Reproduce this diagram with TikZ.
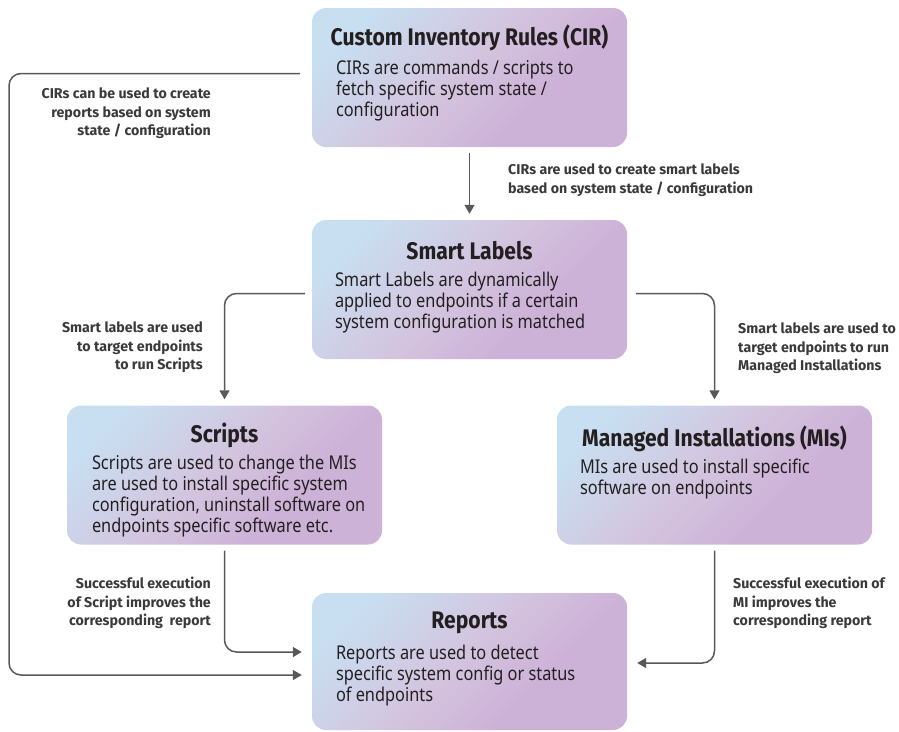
\documentclass[tikz,border=0pt]{standalone}
\usepackage{fontspec}
\usepackage{tikz}
\usetikzlibrary{calc,arrows.meta}
\newfontfamily\titlefont[FakeStretch=0.88]{Fira Sans}
\newfontfamily\bodyfont[FakeStretch=0.86]{Noto Sans}
\newfontfamily\notefont{Fira Sans}
\definecolor{boxblue}{HTML}{C8DFF1}
\definecolor{boxmid}{HTML}{D3C4DE}
\definecolor{boxpurple}{HTML}{CDB2D8}
\definecolor{linegray}{HTML}{58585A}
\definecolor{inktext}{HTML}{231F20}
\definecolor{notegray}{HTML}{3A3A3C}
\pgfdeclarehorizontalshading{boxshade}{100bp}{color(0bp)=(boxblue); color(24bp)=(boxblue);
  color(48bp)=(boxmid); color(64bp)=(boxpurple); color(100bp)=(boxpurple)}

\begin{document}
\begin{tikzpicture}[x=1pt, y=-1pt,
  box/.style={rectangle, rounded corners=14pt, minimum width=315pt, minimum height=139pt,
    inner sep=0pt, shading=boxshade, shading angle=-45},
  boxtitle/.style={font=\titlefont\bfseries\fontsize{24}{28}\selectfont, text=inktext, inner sep=0pt},
  boxbody/.style={font=\bodyfont\fontsize{19}{21}\selectfont, text=inktext, inner sep=0pt, align=left, anchor=north west},
  note/.style={font=\notefont\bfseries\fontsize{14.2}{18.5}\selectfont, text=notegray, inner sep=0pt},
  conn/.style={draw=linegray, line width=1.5pt, rounded corners=12pt, -{Triangle[length=9pt,width=10pt]}}]
  \useasboundingbox (0,0) rectangle (899,731);

  \node[box] (cir) at (469.5,77.5) {};
  \node[box] (smart) at (469.5,289.5) {};
  \node[box] (scripts) at (224.5,475) {};
  \node[box] (mis) at (714.5,475) {};
  \node[box, minimum height=137pt] (reports) at (469.5,661.5) {};

  \node[boxtitle] (cir-title) at ($(cir.north)+(0,30)$) {Custom Inventory Rules (CIR)};
  \node[boxbody] (cir-body) at ($(cir.north west)+(24,52)$) {CIRs are commands / scripts to\\fetch specific system state /\\configuration};
  \node[boxtitle] (smart-title) at ($(smart.north)+(0,31)$) {Smart Labels};
  \node[boxbody] (smart-body) at ($(smart.north west)+(23,52)$) {Smart Labels are dynamically\\applied to endpoints if a certain\\system configuration is matched};
  \node[boxtitle] (scripts-title) at ($(scripts.north)+(0,30)$) {Scripts};
  \node[boxbody] (scripts-body) at ($(scripts.north west)+(25,50)$) {Scripts are used to change the MIs\\are used to install specific system\\configuration, uninstall software on\\endpoints specific software etc.};
  \node[boxtitle] (mis-title) at ($(mis.north)+(0,34)$) {Managed Installations (MIs)};
  \node[boxbody] (mis-body) at ($(mis.north west)+(23,53)$) {MIs are used to install specific\\software on endpoints};
  \node[boxtitle] (reports-title) at ($(reports.north)+(0,30)$) {Reports};
  \node[boxbody] (reports-body) at ($(reports.north west)+(24,52)$) {Reports are used to detect\\specific system config or status\\of endpoints};

  \draw[conn, shorten <=6pt, shorten >=6pt] (cir.south) -- (smart.north);
  \draw[conn, shorten >=6pt] ($(smart.west)+(-7,4)$) -| (scripts.north);
  \draw[conn, shorten >=6pt] ($(smart.east)+(9,4)$) -| (mis.north);
  \draw[conn] ($(cir.west)+(-12,-4)$) -- (9,73.5) |- ($(reports.west)+(-10,13.5)$);
  \draw[conn, shorten <=6pt] (scripts.south) |- ($(reports.west)+(-10,-9.5)$);
  \draw[conn, shorten <=6pt] (mis.south) |- ($(reports.east)+(10,1.5)$);

  \node[note, align=right, anchor=north east] (cir-note) at (211,88) {CIRs can be used to create\\reports based on system\\state / configuration};
  \node[note, align=left, anchor=north west] (smart-note) at (508,164) {CIRs are used to create smart labels\\based on system state / configuration};
  \node[note, align=right, anchor=north east] (scripts-note) at (203,322) {Smart labels are used\\to target endpoints\\to run Scripts};
  \node[note, align=left, anchor=north west] (mis-note) at (738,323) {Smart labels are used to\\target endpoints to run\\Managed Installations};
  \node[note, align=right, anchor=north east] (scripts-report-note) at (211,577) {Successful execution\\of Script improves the\\corresponding~ report};
  \node[note, align=left, anchor=north west] (mis-report-note) at (733,577) {Successful execution of\\MI improves the\\corresponding report};
\end{tikzpicture}
\end{document}
